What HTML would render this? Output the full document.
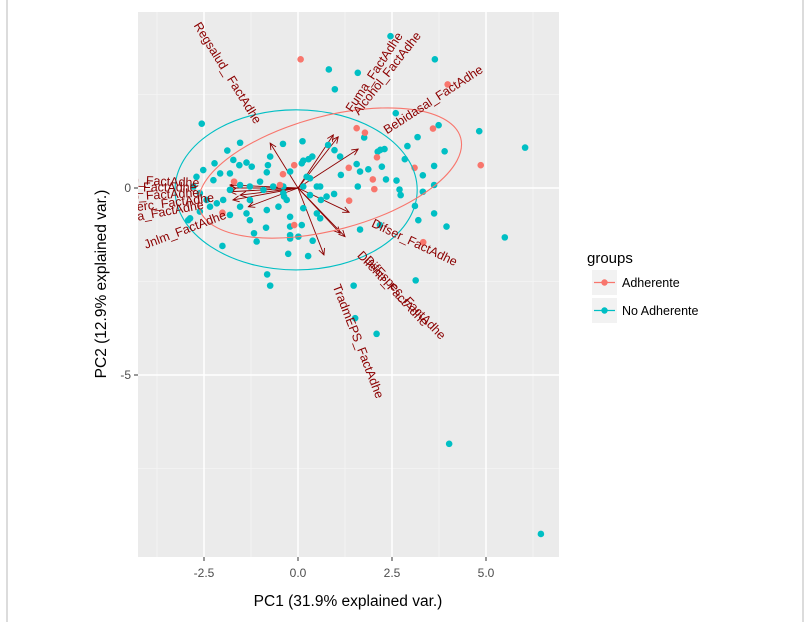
<!DOCTYPE html>
<html><head><meta charset="utf-8"><style>
html,body{margin:0;padding:0;background:#fff;}
svg{display:block;font-family:"Liberation Sans",sans-serif;}
</style></head><body>
<svg id="chart" width="810" height="622" viewBox="0 0 810 622">
<line x1="7" y1="0" x2="7" y2="622" stroke="#d0d0d0" stroke-width="1.5"/>
<line x1="803" y1="0" x2="803" y2="622" stroke="#d0d0d0" stroke-width="1.5"/>
<defs><clipPath id="pc"><rect x="138" y="12" width="421" height="545"/></clipPath></defs>
<rect x="138" y="12" width="421" height="545" fill="#EBEBEB"/>
<g id="grid"></g>
<g id="plot" clip-path="url(#pc)"></g>
<g id="axes"></g>
<text x="348" y="606" font-size="15.5" fill="#000" text-anchor="middle">PC1 (31.9% explained var.)</text>
<text transform="translate(106,284) rotate(-90)" font-size="15.5" fill="#000" text-anchor="middle">PC2 (12.9% explained var.)</text>
<g>
<text x="587" y="263" font-size="15" fill="#000">groups</text>
<g>
<rect x="592" y="270" width="25" height="25" fill="#F2F2F2"/>
<line x1="594" y1="282.5" x2="615" y2="282.5" stroke="#F8766D" stroke-width="1.2"/>
<circle cx="604.5" cy="282.5" r="3.2" fill="#F8766D"/>
<text x="622" y="287" font-size="12.5" fill="#000">Adherente</text>
</g>
<g>
<rect x="592" y="298" width="25" height="25" fill="#F2F2F2"/>
<line x1="594" y1="310.5" x2="615" y2="310.5" stroke="#00BFC4" stroke-width="1.2"/>
<circle cx="604.5" cy="310.5" r="3.2" fill="#00BFC4"/>
<text x="622" y="315" font-size="12.5" fill="#000">No Adherente</text>
</g>
</g>
</svg>
<script>
const xTicks = [-2.5, 0, 2.5, 5];
const xTickLabels = ["-2.5", "0.0", "2.5", "5.0"];
const yTicks = [0, -5];
const yTickLabels = ["0", "-5"];
const adhX = [0.07,3.98,1.56,1.78,3.59,2.10,4.86,-0.10,-0.40,1.35,3.10,1.99,2.03,-0.48,-1.70,1.36,-2.01,-0.10,3.33];
const adhY = [3.44,2.77,1.60,1.48,1.59,0.82,0.61,0.61,0.37,0.54,0.54,0.23,-0.03,0.08,0.17,-0.34,-0.66,-0.99,-1.45];
const noX = [2.46,3.64,0.82,1.59,0.98,2.60,-2.56,3.74,4.82,6.04,0.12,-0.40,0.80,1.76,0.97,1.12,2.30,2.19,2.12,3.18,2.91,3.90,-1.54,-1.88,-2.22,-1.72,-1.56,-1.37,-1.23,-0.74,-0.80,-0.83,0.14,0.28,0.38,0.10,-0.21,0.23,0.32,1.14,1.56,1.65,1.87,2.23,2.84,3.62,3.32,2.34,2.62,2.70,2.73,1.59,0.96,0.59,0.61,0.32,-0.39,-0.30,-0.66,-0.92,-1.01,-1.28,-1.54,-1.81,-2.07,-2.25,-2.52,-2.70,-2.78,-2.61,-2.43,-2.34,-2.16,-1.99,-1.81,-1.54,-1.37,-1.28,-1.81,-2.61,-2.87,-2.92,-1.28,-0.83,-0.52,-0.39,-0.21,0.14,0.50,0.59,-0.21,0.10,-0.85,-1.17,-1.10,-0.21,-0.21,0.01,0.39,0.27,1.65,2.18,3.11,3.20,3.62,3.95,3.32,3.62,-0.37,0.76,0.14,0.50,-0.82,-0.74,1.48,1.52,2.09,3.13,5.50,-2.01,-0.26,4.02,6.46];
const noY = [4.06,3.44,3.17,3.08,2.64,2.00,1.72,1.68,1.52,1.08,1.25,1.18,1.15,1.35,1.01,0.84,1.04,1.02,0.97,1.36,1.12,0.98,1.21,1.00,0.66,0.75,0.61,0.68,0.57,0.84,0.61,0.42,0.73,0.77,0.84,0.66,0.44,0.30,0.26,0.35,0.64,0.44,0.50,0.57,0.77,0.59,0.34,0.23,0.20,-0.04,-0.19,0.04,-0.16,0.04,-0.32,-0.19,-0.14,-0.32,0.04,-0.05,0.17,0.04,0.08,0.39,0.39,0.21,0.48,0.30,0.04,-0.14,-0.32,-0.50,-0.41,-0.32,-0.05,-0.50,-0.68,-0.86,-0.72,-0.63,-0.81,-0.86,-0.32,-0.59,-0.50,0.04,-0.77,-0.54,-0.68,-0.81,-1.03,-0.99,-1.06,-1.21,-1.43,-1.26,-1.35,-1.30,-1.41,-1.82,-1.11,-0.99,-0.48,-0.86,-0.68,-1.03,-0.10,0.08,-0.23,-0.23,0.04,0.04,-2.31,-2.61,-2.61,-3.48,-3.90,-2.47,-1.32,-1.55,-1.76,-6.84,-9.25];
const varNames = ["Regsalud_ FactAdhe","Fuma_FactAdhe","Alcohol_FactAdhe","Bebidasal_FactAdhe","Difser_FactAdhe","DifEspec_FactAdhe","Difentr_FactAdhe","TradmEPS_FactAdhe","Jnlm_FactAdhe","Conocim_FactAdhe","Apoyo_FactAdhe","Dieta_FactAdhe","Ejerc_FactAdhe","Medic_FactAdhe"];
const varX = [-0.74,0.94,1.07,1.60,1.36,1.25,1.12,0.69,-1.32,-1.81,-1.81,-1.73,-1.54,-1.86];
const varY = [1.20,1.42,1.37,1.04,-0.65,-1.30,-1.21,-1.79,-0.50,0.08,-0.10,-0.32,-0.19,0.00];
const ellGroups = ["No Adherente","Adherente"];
const ellCx = [-0.05,0.85];
const ellCy = [-0.05,0.40];
const ellA = [3.22,3.6];
const ellB = [2.14,1.52];
const ellAngle = [0,15];

const NS="http://www.w3.org/2000/svg";
const X0=298, KX=37.6, Y0=188, KY=37.4;
const sx=v=>X0+KX*v, sy=v=>Y0-KY*v;
function mk(tag,attrs,parent){const e=document.createElementNS(NS,tag);for(const k in attrs)e.setAttribute(k,attrs[k]);parent.appendChild(e);return e;}
const grid=document.getElementById('grid'), plot=document.getElementById('plot'), axes=document.getElementById('axes');
// minor grid
for(let v=-3.75; v<=6.5; v+=2.5){const l=mk('line',{x1:sx(v),x2:sx(v),y1:12,y2:557,stroke:'#F5F5F5','stroke-width':0.8},grid);

}
for(let v=2.5; v>=-10; v-=5){const l=mk('line',{x1:138,x2:559,y1:sy(v),y2:sy(v),stroke:'#F5F5F5','stroke-width':0.8},grid);

}
xTicks.forEach((t,i)=>{
  const l=mk('line',{x1:sx(t),x2:sx(t),y1:12,y2:557,stroke:'#fff','stroke-width':1.5},grid);
  
  
  mk('line',{x1:sx(t),x2:sx(t),y1:557,y2:561,stroke:'#333','stroke-width':1},axes);
  const tx=mk('text',{x:sx(t),y:577,'font-size':12,fill:'#4D4D4D','text-anchor':'middle'},axes);
  tx.textContent=xTickLabels[i];
  
  
});
yTicks.forEach((t,i)=>{
  const l=mk('line',{x1:138,x2:559,y1:sy(t),y2:sy(t),stroke:'#fff','stroke-width':1.5},grid);
  
  
  mk('line',{x1:134,x2:138,y1:sy(t),y2:sy(t),stroke:'#333','stroke-width':1},axes);
  const tx=mk('text',{x:131,y:sy(t)+4,'font-size':12,fill:'#4D4D4D','text-anchor':'end'},axes);
  tx.textContent=yTickLabels[i];
  
  
});
// arrows
const dr='#8B0000';
varX.forEach((vx,i)=>{
  const x2=sx(vx), y2=sy(varY[i]);
  const g=mk('g',{},plot);
  
  
  mk('line',{x1:X0,y1:Y0,x2:x2,y2:y2,stroke:dr,'stroke-width':0.9},g);
  const ang=Math.atan2(y2-Y0,x2-X0), h=7, w=0.45;
  const p1=[x2-h*Math.cos(ang-w),y2-h*Math.sin(ang-w)], p2=[x2-h*Math.cos(ang+w),y2-h*Math.sin(ang+w)];
  mk('polyline',{points:`${p1[0]},${p1[1]} ${x2},${y2} ${p2[0]},${p2[1]}`,fill:'none',stroke:dr,'stroke-width':0.9},g);
});
// points
function pts(xs,ys,col,name){xs.forEach((v,i)=>{const c=mk('circle',{cx:sx(v),cy:sy(ys[i]),r:3.3,fill:col},plot);

});}
pts(noX,noY,'#00BFC4','point-no-adherente');
pts(adhX,adhY,'#F8766D','point-adherente');
// ellipses
const ellCol=['#00BFC4','#F8766D'];
ellCx.forEach((c,i)=>{
  const e=mk('ellipse',{cx:sx(c),cy:sy(ellCy[i]),rx:ellA[i]*KX,ry:ellB[i]*KY,fill:'none',stroke:ellCol[i],'stroke-width':1.1,transform:`rotate(${-ellAngle[i]} ${sx(c)} ${sy(ellCy[i])})`},plot);
  
  
});
// labels
varX.forEach((vx,i)=>{
  const lx=sx(vx*1.45), ly=sy(varY[i]*1.45);
  let ang=Math.atan2(sy(varY[i])-Y0, sx(vx)-X0)*180/Math.PI;
  let anchor='start';
  if(vx<0){ang+=180;anchor='end';}
  const t=mk('text',{x:lx,y:ly,'font-size':12.5,fill:dr,'text-anchor':anchor,'dominant-baseline':'middle',transform:`rotate(${ang} ${lx} ${ly})`},plot);
  t.textContent=varNames[i];
  
  
});
</script>
</body></html>
